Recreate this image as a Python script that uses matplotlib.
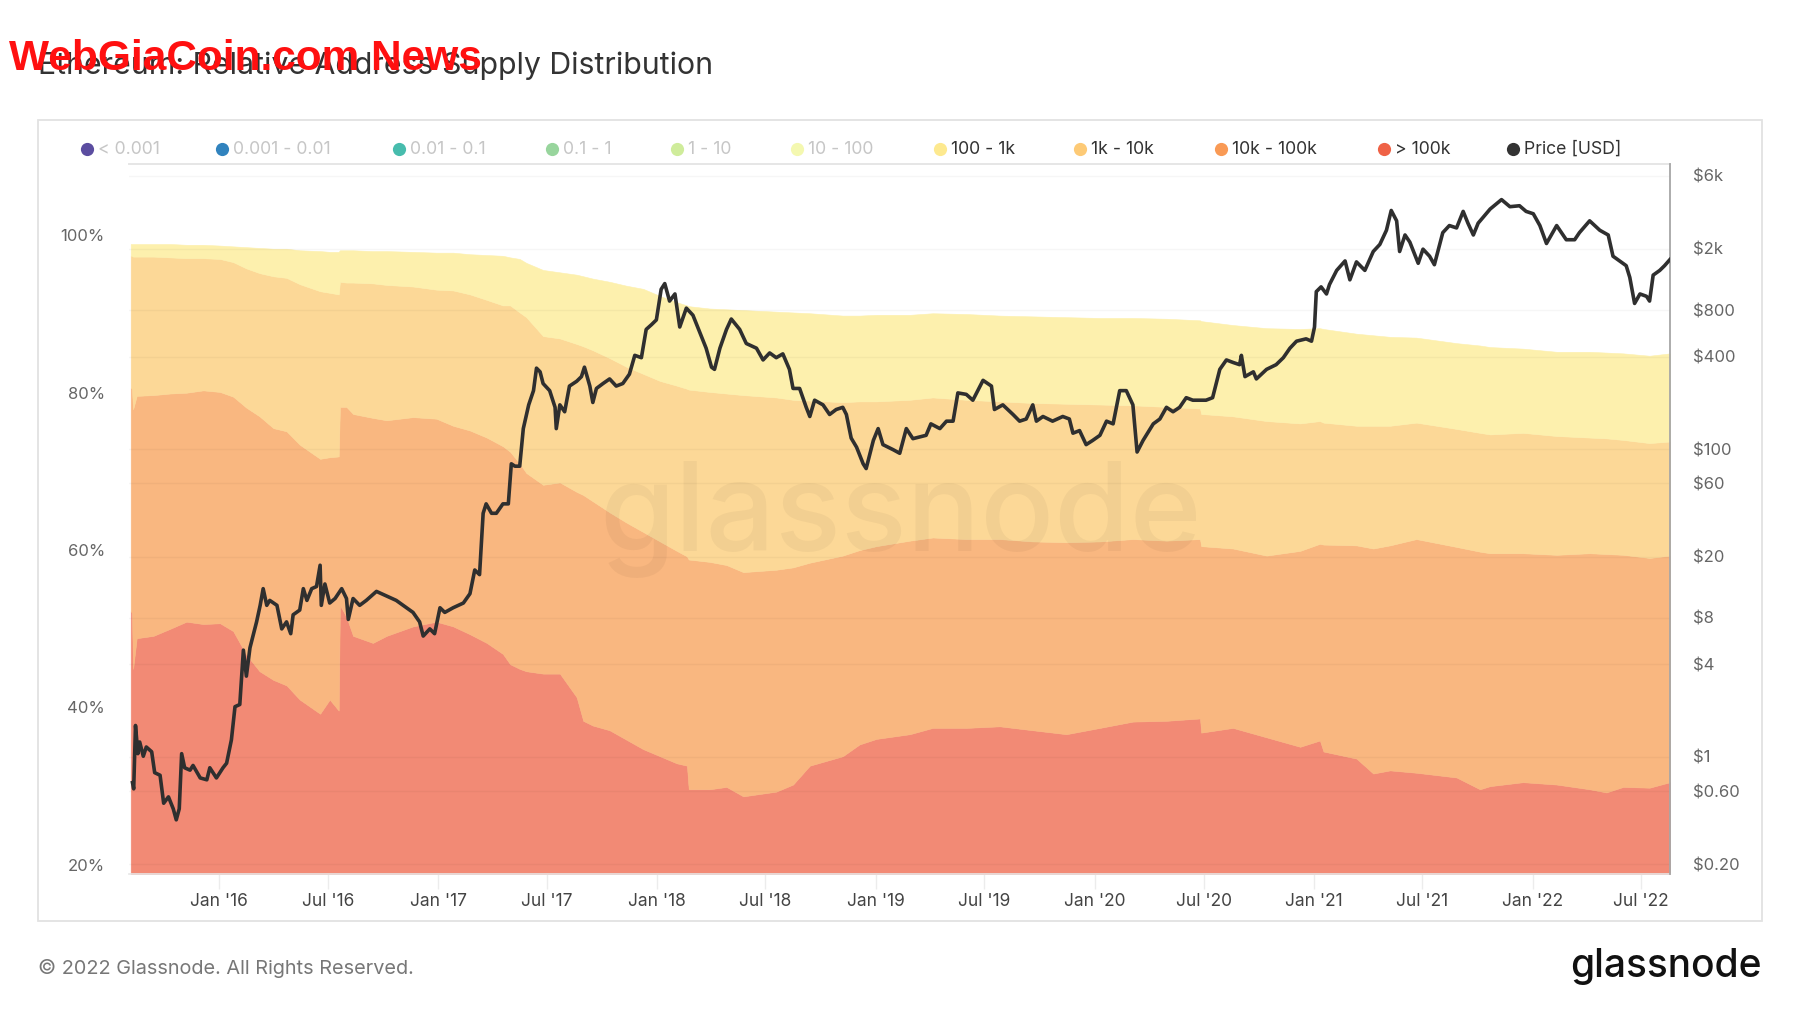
import matplotlib
matplotlib.use("Agg")
import matplotlib.pyplot as plt
import matplotlib.dates as mdates
from matplotlib.lines import Line2D
from matplotlib.patches import Rectangle
import numpy as np
import pandas as pd

plt.rcParams['font.family'] = ['Inter', 'DejaVu Sans']

# ---------------- data ----------------
band_dates = [
    "2015-08-07", "2015-08-09", "2015-08-11", "2015-08-17", "2015-09-14", "2015-10-12", "2015-11-08", "2015-12-06",
    "2016-01-03", "2016-01-25", "2016-02-16", "2016-03-09", "2016-04-01", "2016-04-23", "2016-05-15", "2016-06-18",
    "2016-07-04", "2016-07-19", "2016-07-21", "2016-08-01", "2016-08-12", "2016-09-14", "2016-10-07", "2016-11-20",
    "2016-12-29", "2017-01-26", "2017-02-23", "2017-03-23", "2017-04-19", "2017-05-01", "2017-05-17", "2017-05-28",
    "2017-06-25", "2017-07-23", "2017-08-20", "2017-08-31", "2017-09-16", "2017-10-14", "2017-11-11", "2017-12-09",
    "2018-01-06", "2018-02-03", "2018-02-20", "2018-02-23", "2018-03-30", "2018-04-27", "2018-05-25", "2018-07-19",
    "2018-08-16", "2018-09-13", "2018-11-07", "2018-12-05", "2019-01-02", "2019-02-27", "2019-04-06", "2019-06-01",
    "2019-07-27", "2019-09-20", "2019-11-15", "2020-01-10", "2020-03-05", "2020-04-30", "2020-06-25", "2020-06-27",
    "2020-08-19", "2020-10-14", "2020-12-09", "2021-01-11", "2021-01-17", "2021-03-13", "2021-04-10", "2021-05-08",
    "2021-06-21", "2021-08-27", "2021-10-05", "2021-10-22", "2021-12-16", "2022-02-10", "2022-04-06", "2022-05-04",
    "2022-06-01", "2022-07-15", "2022-08-18",
]
share_gt_100k = [
    52.2, 52.0, 44.9, 48.8, 49.1, 50.0, 50.9, 50.6,
    50.7, 49.7, 46.7, 44.6, 43.5, 42.8, 41.0, 39.2,
    41.0, 39.6, 53.0, 51.5, 49.1, 48.2, 49.1, 50.3,
    50.9, 50.3, 49.3, 48.2, 46.8, 45.5, 44.9, 44.6,
    44.3, 44.3, 41.3, 38.3, 37.7, 37.1, 35.9, 34.7,
    33.8, 32.9, 32.6, 29.6, 29.6, 29.9, 28.7, 29.3,
    30.2, 32.6, 33.8, 35.3, 36.0, 36.6, 37.4, 37.4,
    37.6, 37.1, 36.6, 37.4, 38.2, 38.3, 38.6, 36.8,
    37.4, 36.2, 35.0, 35.8, 34.4, 33.5, 31.6, 32.0,
    31.7, 31.1, 29.6, 30.0, 30.5, 30.2, 29.6, 29.2,
    29.9, 29.8, 30.5,
]
share_10k_100k = [
    28.4, 28.5, 33.0, 30.8, 30.6, 29.9, 29.1, 29.7,
    29.4, 29.8, 31.4, 32.4, 32.0, 32.3, 32.4, 32.4,
    30.8, 32.3, 25.2, 26.7, 28.2, 28.6, 27.4, 26.6,
    25.8, 25.5, 25.9, 26.1, 26.4, 27.0, 26.1, 25.2,
    24.0, 24.3, 26.1, 28.7, 28.5, 27.7, 27.6, 27.6,
    27.3, 27.0, 26.6, 29.2, 28.9, 28.2, 28.5, 28.2,
    27.6, 25.8, 25.5, 24.7, 24.5, 24.6, 24.2, 24.0,
    23.8, 24.0, 24.4, 23.7, 23.2, 22.9, 22.8, 23.7,
    22.8, 23.1, 24.9, 25.0, 26.3, 27.1, 28.6, 28.6,
    29.7, 29.3, 30.2, 29.6, 29.1, 29.2, 30.0, 30.3,
    29.5, 29.2, 28.8,
]
share_1k_10k = [
    16.8, 16.9, 19.4, 17.7, 17.6, 17.3, 17.1, 16.8,
    16.9, 17.1, 17.7, 18.2, 19.3, 19.5, 20.4, 21.3,
    20.9, 20.6, 15.9, 15.8, 16.7, 17.1, 17.2, 16.6,
    16.4, 17.2, 17.3, 17.5, 17.9, 18.6, 19.2, 19.8,
    18.9, 18.3, 18.8, 18.9, 19.2, 19.6, 19.8, 20.1,
    20.4, 21.0, 21.3, 21.6, 21.6, 21.8, 22.5, 21.9,
    21.3, 20.6, 19.5, 18.9, 18.4, 17.9, 17.8, 17.7,
    17.5, 17.6, 17.6, 17.4, 17.0, 17.0, 16.6, 16.8,
    16.8, 17.1, 16.2, 15.6, 15.5, 15.2, 15.6, 15.2,
    14.8, 15.0, 15.1, 15.1, 15.3, 15.1, 14.7, 14.7,
    14.6, 14.6, 14.5,
]
share_100_1k = [
    1.5, 1.5, 1.6, 1.6, 1.6, 1.7, 1.7, 1.7,
    1.7, 2.0, 2.7, 3.2, 3.5, 3.7, 4.3, 5.1,
    5.2, 5.4, 4.0, 4.1, 4.1, 4.1, 4.3, 4.4,
    4.7, 4.8, 5.1, 5.7, 6.3, 6.1, 6.8, 6.9,
    8.4, 8.4, 8.8, 8.9, 9.1, 9.7, 10.3, 10.8,
    10.8, 10.6, 10.6, 10.6, 10.6, 10.7, 10.8, 10.9,
    11.1, 11.1, 11.0, 10.9, 11.0, 10.8, 10.7, 10.9,
    10.9, 11.0, 11.0, 11.0, 11.1, 11.2, 11.2, 11.8,
    11.6, 11.8, 12.0, 11.8, 11.9, 11.7, 11.5, 11.3,
    10.8, 10.9, 11.1, 11.1, 10.7, 10.7, 10.9, 10.9,
    11.0, 11.1, 11.2,
]

price_dates = [
    "2015-08-10", "2015-08-12", "2015-08-15", "2015-08-19", "2015-08-22", "2015-08-28", "2015-09-02", "2015-09-11",
    "2015-09-16", "2015-09-25", "2015-10-01", "2015-10-09", "2015-10-17", "2015-10-22", "2015-10-27", "2015-10-31",
    "2015-11-05", "2015-11-14", "2015-11-19", "2015-12-01", "2015-12-12", "2015-12-17", "2015-12-28", "2016-01-08",
    "2016-01-14", "2016-01-22", "2016-01-28", "2016-02-05", "2016-02-11", "2016-02-16", "2016-02-22", "2016-03-04",
    "2016-03-10", "2016-03-15", "2016-03-21", "2016-03-26", "2016-04-07", "2016-04-15", "2016-04-23", "2016-04-30",
    "2016-05-04", "2016-05-15", "2016-05-21", "2016-05-27", "2016-06-04", "2016-06-12", "2016-06-18", "2016-06-20",
    "2016-06-26", "2016-07-04", "2016-07-13", "2016-07-24", "2016-08-01", "2016-08-04", "2016-08-12", "2016-08-23",
    "2016-09-03", "2016-09-20", "2016-10-07", "2016-10-23", "2016-11-09", "2016-11-20", "2016-12-01", "2016-12-07",
    "2016-12-18", "2016-12-26", "2017-01-04", "2017-01-12", "2017-01-26", "2017-02-12", "2017-02-23", "2017-03-03",
    "2017-03-11", "2017-03-17", "2017-03-22", "2017-03-31", "2017-04-08", "2017-04-19", "2017-04-28", "2017-05-03",
    "2017-05-09", "2017-05-17",
    "2017-05-23", "2017-06-01", "2017-06-09", "2017-06-14", "2017-06-20", "2017-06-25", "2017-07-06", "2017-07-15",
    "2017-07-17", "2017-07-23", "2017-07-31", "2017-08-08", "2017-08-20", "2017-08-28", "2017-09-02", "2017-09-11",
    "2017-09-16", "2017-09-22", "2017-10-03", "2017-10-14", "2017-10-25", "2017-11-05", "2017-11-16", "2017-11-25",
    "2017-12-06", "2017-12-14", "2017-12-23", "2017-12-31", "2018-01-08", "2018-01-14", "2018-01-22", "2018-01-31",
    "2018-02-08", "2018-02-19", "2018-03-02", "2018-03-13", "2018-03-24", "2018-04-02", "2018-04-07", "2018-04-16",
    "2018-04-27", "2018-05-05", "2018-05-19", "2018-05-30", "2018-06-16", "2018-06-27", "2018-07-08", "2018-07-19",
    "2018-07-30", "2018-08-10", "2018-08-16", "2018-08-27", "2018-09-07", "2018-09-13", "2018-09-21", "2018-10-05",
    "2018-10-16", "2018-10-27", "2018-11-07", "2018-11-13", "2018-11-21", "2018-11-30", "2018-12-11", "2018-12-16",
    "2018-12-28", "2019-01-05", "2019-01-13", "2019-01-30", "2019-02-10",
    "2019-02-21", "2019-03-04", "2019-03-26", "2019-04-03", "2019-04-18", "2019-04-29", "2019-05-10", "2019-05-18",
    "2019-06-01", "2019-06-12", "2019-06-29", "2019-07-13", "2019-07-18", "2019-08-01", "2019-08-18", "2019-08-29",
    "2019-09-09", "2019-09-20", "2019-09-26", "2019-10-07", "2019-10-23", "2019-11-09", "2019-11-20", "2019-11-26",
    "2019-12-07", "2019-12-18", "2019-12-29", "2020-01-10", "2020-01-21", "2020-02-01", "2020-02-12", "2020-02-23",
    "2020-03-05", "2020-03-12", "2020-03-22", "2020-04-08", "2020-04-19", "2020-04-30", "2020-05-11", "2020-05-22",
    "2020-06-02", "2020-06-13", "2020-06-24", "2020-07-05", "2020-07-16", "2020-07-28", "2020-08-08", "2020-08-19",
    "2020-08-30", "2020-09-02", "2020-09-08", "2020-09-22", "2020-09-27", "2020-10-14", "2020-10-30", "2020-11-11",
    "2020-11-22", "2020-12-03", "2020-12-19", "2020-12-28", "2021-01-02", "2021-01-05", "2021-01-13", "2021-01-22",
    "2021-01-27", "2021-02-08", "2021-02-22", "2021-03-02", "2021-03-13", "2021-03-27", "2021-04-10", "2021-04-21",
    "2021-05-02", "2021-05-10", "2021-05-19", "2021-05-24", "2021-06-02", "2021-06-10", "2021-06-24", "2021-07-02",
    "2021-07-13", "2021-07-21", "2021-08-04", "2021-08-15", "2021-08-27", "2021-09-07", "2021-09-15", "2021-09-24",
    "2021-10-02", "2021-10-22", "2021-11-10", "2021-11-24", "2021-12-10", "2021-12-21", "2022-01-02", "2022-01-13",
    "2022-01-24", "2022-02-10", "2022-02-26", "2022-03-12", "2022-03-20", "2022-04-06", "2022-04-23", "2022-05-07",
    "2022-05-15", "2022-05-26", "2022-06-06", "2022-06-12", "2022-06-20", "2022-06-29", "2022-07-10", "2022-07-15",
    "2022-07-21", "2022-08-01", "2022-08-09", "2022-08-18",
]
price_usd = [
    0.68, 0.62, 1.60, 1.05, 1.25, 1.01, 1.16, 1.08,
    0.79, 0.76, 0.50, 0.55, 0.46, 0.39, 0.46, 1.05,
    0.85, 0.82, 0.88, 0.73, 0.71, 0.85, 0.73, 0.85,
    0.91, 1.29, 2.12, 2.19, 4.94, 3.35, 5.12, 7.54,
    9.66, 12.4, 9.66, 10.4, 9.66, 6.79, 7.54, 6.32,
    8.39, 9.0, 12.4, 10.4, 12.4, 12.8, 17.6, 9.66,
    13.3, 10.0, 10.7, 12.4, 10.7, 7.82, 10.7, 9.66,
    10.4, 11.9, 11.1, 10.4, 9.32, 8.69, 7.54, 6.10,
    6.79, 6.32, 9.32, 8.69, 9.32, 10.0, 11.5, 16.4,
    15.3, 38.3, 44.1, 38.3, 38.3, 44.1, 44.1, 80.3,
    77.5, 77.5,
    136, 194, 240, 336, 318, 267, 240, 187,
    136, 194, 175, 257, 276, 296, 341, 257,
    201, 248, 267, 286, 257, 267, 307, 407,
    393, 600, 645, 692, 1094, 1191, 917, 1020,
    622, 825, 742, 580, 453, 341, 330, 453,
    600, 701, 600, 486, 453, 380, 422, 393,
    416, 330, 248, 248, 187, 163, 208, 194,
    168, 181, 187, 168, 118, 103, 80.3, 74.8,
    114, 136, 107, 99.2, 94.0,
    136, 117, 123, 146, 136, 152, 152, 232,
    227, 208, 280, 257, 181, 194, 168, 152,
    157, 194, 152, 163, 152, 163, 157, 127,
    132, 107, 114, 123, 152, 146, 240, 240,
    194, 95.8, 114, 146, 157, 187, 175, 187,
    216, 208, 208, 208, 216, 330, 380, 366,
    354, 407, 296, 318, 286, 330, 354, 393,
    453, 503, 521, 503, 622, 1056, 1134, 1020,
    1175, 1451, 1672, 1260, 1648, 1451, 1925, 2140,
    2645, 3557, 3046, 1925, 2465, 2217, 1614, 1994,
    1794, 1580, 2553, 2838, 2740, 3508, 2941, 2465,
    2941, 3634, 4185, 3764, 3818, 3508, 3386, 2838,
    2170, 2838, 2296, 2296, 2553, 3046, 2645, 2465,
    1794, 1672, 1557, 1306, 885, 1020, 984, 917,
    1352, 1451, 1557, 1707,
]

cohort_labels = ["< 0.001", "0.001 - 0.01", "0.01 - 0.1", "0.1 - 1", "1 - 10", "10 - 100",
                 "100 - 1k", "1k - 10k", "10k - 100k", "> 100k", "Price [USD]"]
cohort_dot_colors = ["#5b4da0", "#3183be", "#47bcad", "#98d59d", "#cfec9b", "#f4f8b0",
                     "#fde98f", "#fdca76", "#f99a55", "#ef6246", "#333333"]
cohort_shown = [False, False, False, False, False, False, True, True, True, True, True]
fill_colors = ["#f28a75", "#f9b780", "#fcd897", "#fdf0ad"]

xtick_dates = ["2016-01-01", "2016-07-01", "2017-01-01", "2017-07-01", "2018-01-01", "2018-07-01",
               "2019-01-01", "2019-07-01", "2020-01-01", "2020-07-01", "2021-01-01", "2021-07-01",
               "2022-01-01", "2022-07-01"]
xtick_labels = ["Jan '16", "Jul '16", "Jan '17", "Jul '17", "Jan '18", "Jul '18", "Jan '19", "Jul '19",
                "Jan '20", "Jul '20", "Jan '21", "Jul '21", "Jan '22", "Jul '22"]
pct_ticks = [20, 40, 60, 80, 100]
price_ticks = [0.2, 0.6, 1, 4, 8, 20, 60, 100, 400, 800, 2000, 6000]
price_tick_labels = ["$0.20", "$0.60", "$1", "$4", "$8", "$20", "$60", "$100", "$400", "$800", "$2k", "$6k"]

# ---------------- figure ----------------
W, H = 1800, 1013
fig = plt.figure(figsize=(W / 100, H / 100), dpi=100)
fig.patch.set_facecolor("white")

def fx(px):
    return px / W

def fy(py):
    return 1 - py / H

# outer card frame
fig.patches.append(Rectangle((fx(38), fy(921)), fx(1762) - fx(38), fy(120.5) - fy(921),
                             transform=fig.transFigure, fill=False, edgecolor="#e2e2e2", lw=1.3))

ax = fig.add_axes([fx(128.6), fy(874), fx(1670.3) - fx(128.6), fy(164) - fy(874)])
xb = mdates.date2num(pd.to_datetime(band_dates))
layers = [share_gt_100k, share_10k_100k, share_1k_10k, share_100_1k]
cum = np.cumsum(np.array(layers, dtype=float), axis=0)
lower = np.zeros(len(xb))
for k in range(len(layers)):
    ax.fill_between(xb, lower, cum[k], facecolor=fill_colors[k], edgecolor=fill_colors[k],
                    linewidth=0.4, zorder=2)
    lower = cum[k]

ax.set_xlim(mdates.date2num(pd.Timestamp("2015-08-03 12:00")),
            mdates.date2num(pd.Timestamp("2022-08-18 14:00")))
ax.set_ylim(18.83, 109.07)
ax.set_yticks(pct_ticks)
ax.set_yticklabels([f"{t}%" for t in pct_ticks])
ax.tick_params(axis="y", length=0, pad=17, labelsize=12, labelcolor="#666666")
ax.set_xticks(mdates.date2num(pd.to_datetime(xtick_dates)))
ax.set_xticklabels(xtick_labels)
ax.tick_params(axis="x", length=11, width=1, color="#ececec", pad=3, labelsize=12.5, labelcolor="#444444")
for s in ["left", "right"]:
    ax.spines[s].set_visible(False)
ax.spines["top"].set_color("#e6e6e6")
ax.spines["top"].set_linewidth(1.4)
ax.spines["bottom"].set_color("#e6e6e6")
ax.spines["bottom"].set_linewidth(1.2)
ax.set_facecolor("none")

# watermark
ax.text(0.501, 0.50, "glassnode", transform=ax.transAxes, ha="center", va="center",
        fontsize=88, color="#000000", alpha=0.04, fontweight="medium", zorder=3)

ax2 = ax.twinx()
ax2.set_yscale("log")
ax2.set_ylim(0.1734, 7130)
xp = mdates.date2num(pd.to_datetime(price_dates))
ax2.plot(xp, price_usd, color="#2f2f2f", lw=2.6, solid_joinstyle="round", zorder=5)
ax2.yaxis.set_major_locator(matplotlib.ticker.FixedLocator(price_ticks))
ax2.yaxis.set_major_formatter(matplotlib.ticker.FixedFormatter(price_tick_labels))
ax2.yaxis.set_minor_locator(matplotlib.ticker.NullLocator())
ax2.tick_params(axis="y", length=0, pad=16, labelsize=12, labelcolor="#666666")
ax2.grid(axis="y", which="major", color="#000000", alpha=0.035, lw=1)
for s in ["left", "top", "bottom"]:
    ax2.spines[s].set_visible(False)
ax2.spines["right"].set_color("#a6a6a6")
ax2.spines["right"].set_linewidth(1.3)

# legend row
legend_dot_x = [87, 222, 399, 552, 677, 797, 940, 1080, 1221, 1384, 1513]
for lx, lab, col, on in zip(legend_dot_x, cohort_labels, cohort_dot_colors, cohort_shown):
    fig.add_artist(Line2D([fx(lx)], [fy(149)], marker="o", markersize=9.5, color=col,
                          markeredgewidth=0, linestyle="none", transform=fig.transFigure))
    fig.text(fx(lx + 11), fy(149), lab, ha="left", va="center", fontsize=12.7,
             color="#333333" if on else "#c6c6c6")

# titles / footer
fig.text(fx(38), fy(66), "Ethereum: Relative Address Supply Distribution", ha="left", va="center",
         fontsize=21.8, color="#333333")
fig.text(fx(9), fy(70), "WebGiaCoin.com News", ha="left", va="baseline", fontsize=30.5,
         color="#ff1010", fontweight="bold",
         family=["Liberation Sans Narrow", "Liberation Sans", "DejaVu Sans"])
fig.text(fx(38), fy(968), "\u00a9 2022 Glassnode. All Rights Reserved.", ha="left", va="center",
         fontsize=14.3, color="#777777")
fig.text(fx(1762), fy(966), "glassnode", ha="right", va="center", fontsize=28, color="#111111",
         fontweight="medium")

fig.savefig("out.png", dpi=100, facecolor="white")
